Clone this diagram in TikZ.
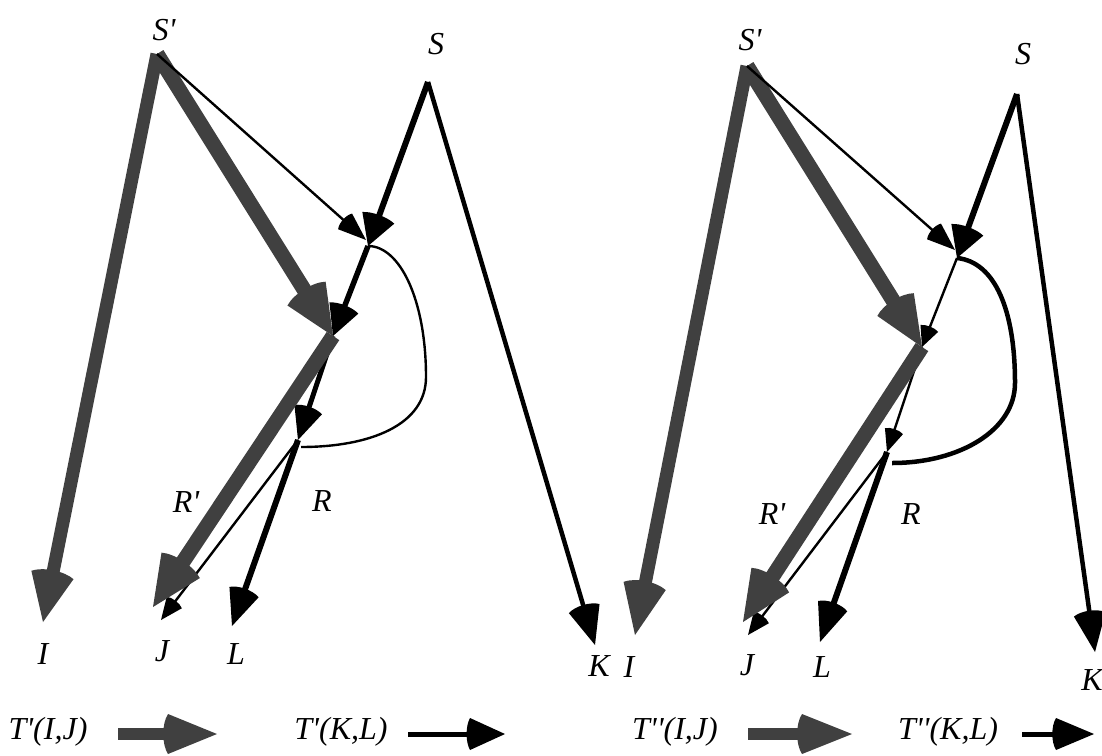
\documentclass[tikz,border=0pt]{standalone}
\usepackage{fontspec}
\newfontfamily\labfont{Liberation Serif}[Ligatures=TeXOff]
\usetikzlibrary{arrows.meta}
\pgfdeclarearrow{
  name = Fan,
  defaults = {length = 12pt, width = 10pt},
  parameters = {\the\pgfarrowlength,\the\pgfarrowwidth},
  setup code = {
    \pgfarrowssettipend{0pt}
    \pgfarrowssetbackend{-1.1\pgfarrowlength}
    \pgfarrowssetlineend{-0.6\pgfarrowlength}
    \pgfarrowsupperhullpoint{0pt}{0pt}
    \pgfarrowsupperhullpoint{-\pgfarrowlength}{.5\pgfarrowwidth}
    \pgfarrowssavethe\pgfarrowlength
    \pgfarrowssavethe\pgfarrowwidth
  },
  drawing code = {
    \pgfpathmoveto{\pgfpointorigin}
    \pgfpathlineto{\pgfpoint{-\pgfarrowlength}{.5\pgfarrowwidth}}
    \pgfpathcurveto{\pgfpoint{-1.13\pgfarrowlength}{.25\pgfarrowwidth}}{\pgfpoint{-1.13\pgfarrowlength}{-.25\pgfarrowwidth}}{\pgfpoint{-\pgfarrowlength}{-.5\pgfarrowwidth}}
    \pgfpathclose
    \pgfusepathqfill
  }
}
\definecolor{gry}{HTML}{404040}
\begin{document}
\begin{tikzpicture}[x=1pt,y=-1pt,
  lab/.style={font=\labfont\itshape\fontsize{32}{32}\selectfont, inner sep=0pt},
  gline/.style={color=gry, line width=13pt},
  bline/.style={color=black, line width=5.5pt},
  tline/.style={color=black, line width=2.4pt}]
\useasboundingbox (0,0) rectangle (1102,755);

% ---------------- left diagram ----------------
\coordinate (Sp) at (157,54);
\coordinate (S) at (428,82);
\coordinate (A) at (368,246);
\coordinate (At) at (366,240);
\coordinate (B) at (333,336);
\coordinate (C) at (298,440);
\coordinate (Cc) at (301,447);
\coordinate (I) at (43,622);
\coordinate (Jg) at (153,607);
\coordinate (Jt) at (161,620);
\coordinate (L) at (232,626);
\coordinate (K) at (595,645);

\node[lab] (lSp) at (164,30) {S'};
\node[lab] (lS) at (436,44) {S};
\node[lab] (lRp) at (186,502) {R'};
\node[lab] (lR) at (322,501) {R};
\node[lab] (lI) at (43,654) {I};
\node[lab] (lJ) at (162,651) {J};
\node[lab] (lL) at (236,654) {L};
\node[lab] (lK) at (599,666) {K};

\draw[gline, -{Fan[length=48pt,width=43pt]}] (Sp) -- (I);
\draw[gline, line width=15pt, -{Fan[length=50pt,width=45pt]}] (Sp) -- (B);
\draw[tline, -{Fan[length=28pt,width=21pt]}] (Sp) -- (At);
\draw[bline, line width=6pt, -{Fan[length=30pt,width=34pt]}] (S) -- (A);
\draw[bline, line width=4.5pt, -{Fan[length=38pt,width=32pt]}] (S) -- (K);
\draw[bline, -{Fan[length=30pt,width=31pt]}] (A) -- (B);
\draw[bline, line width=5pt, -{Fan[length=32pt,width=29pt]}] (B) -- (C);
\draw[tline] (A) .. controls (400,246) and (426,300) .. (426,377) .. controls (426,425) and (370,447) .. (Cc);
\draw[tline, -{Fan[length=22pt,width=19pt]}] (C) -- (Jt);
\draw[gline, line width=15pt, -{Fan[length=50pt,width=46pt]}] (B) -- (Jg);
\draw[bline, line width=6pt, -{Fan[length=36pt,width=31pt]}] (C) -- (L);

% ---------------- right diagram ----------------
\coordinate (Sp2) at (747,66);
\coordinate (S2) at (1017,94);
\coordinate (A2) at (957,258);
\coordinate (At2) at (955,250);
\coordinate (B2) at (922,347);
\coordinate (C2) at (887,452);
\coordinate (Cc2) at (892,463);
\coordinate (I2) at (635,635);
\coordinate (Jg2) at (743,622);
\coordinate (Jt2) at (748,635);
\coordinate (L2) at (820,642);
\coordinate (K2) at (1095,652);

\node[lab] (rSp) at (750,40) {S'};
\node[lab] (rS) at (1023,54) {S};
\node[lab] (rRp) at (772,514) {R'};
\node[lab] (rR) at (911,514) {R};
\node[lab] (rI) at (629,667) {I};
\node[lab] (rJ) at (747,665) {J};
\node[lab] (rL) at (822,667) {L};
\node[lab] (rK) at (1092,680) {K};

\draw[gline, -{Fan[length=50pt,width=43pt]}] (Sp2) -- (I2);
\draw[gline, line width=15pt, -{Fan[length=50pt,width=43pt]}] (Sp2) -- (B2);
\draw[tline, -{Fan[length=28pt,width=21pt]}] (Sp2) -- (At2);
\draw[bline, line width=6pt, -{Fan[length=30pt,width=34pt]}] (S2) -- (A2);
\draw[bline, line width=4.5pt, -{Fan[length=38pt,width=32pt]}] (S2) -- (K2);
\draw[tline, -{Fan[length=20pt,width=19pt]}] (A2) -- (B2);
\draw[tline, -{Fan[length=22pt,width=19pt]}] (B2) -- (C2);
\draw[bline, line width=4.5pt] (A2) .. controls (995,262) and (1015,310) .. (1015,383) .. controls (1015,430) and (960,463) .. (Cc2);
\draw[tline, -{Fan[length=22pt,width=19pt]}] (C2) -- (Jt2);
\draw[gline, line width=15pt, -{Fan[length=50pt,width=45pt]}] (B2) -- (Jg2);
\draw[bline, line width=6pt, -{Fan[length=38pt,width=31pt]}] (C2) -- (L2);

% ---------------- legend ----------------
\node[lab] (t1) at (48,732) {T'(I,J)};
\coordinate (g1s) at (118,734);
\coordinate (g1e) at (217,734);
\draw[gline, line width=12pt, -{Fan[length=49pt,width=40pt]}] (g1s) -- (g1e);
\node[lab] (t2) at (341,732) {T'(K,L)};
\coordinate (b1s) at (408,734);
\coordinate (b1e) at (505,734);
\draw[bline, line width=5pt, -{Fan[length=35pt,width=32pt]}] (b1s) -- (b1e);
\node[lab] (t3) at (675,732) {T''(I,J)};
\coordinate (g2s) at (748,734);
\coordinate (g2e) at (852,734);
\draw[gline, line width=12pt, -{Fan[length=50pt,width=40pt]}] (g2s) -- (g2e);
\node[lab] (t4) at (948,732) {T''(K,L)};
\coordinate (b2s) at (1022,734);
\coordinate (b2e) at (1094,734);
\draw[bline, line width=5pt, -{Fan[length=38pt,width=32pt]}] (b2s) -- (b2e);
\end{tikzpicture}
\end{document}
